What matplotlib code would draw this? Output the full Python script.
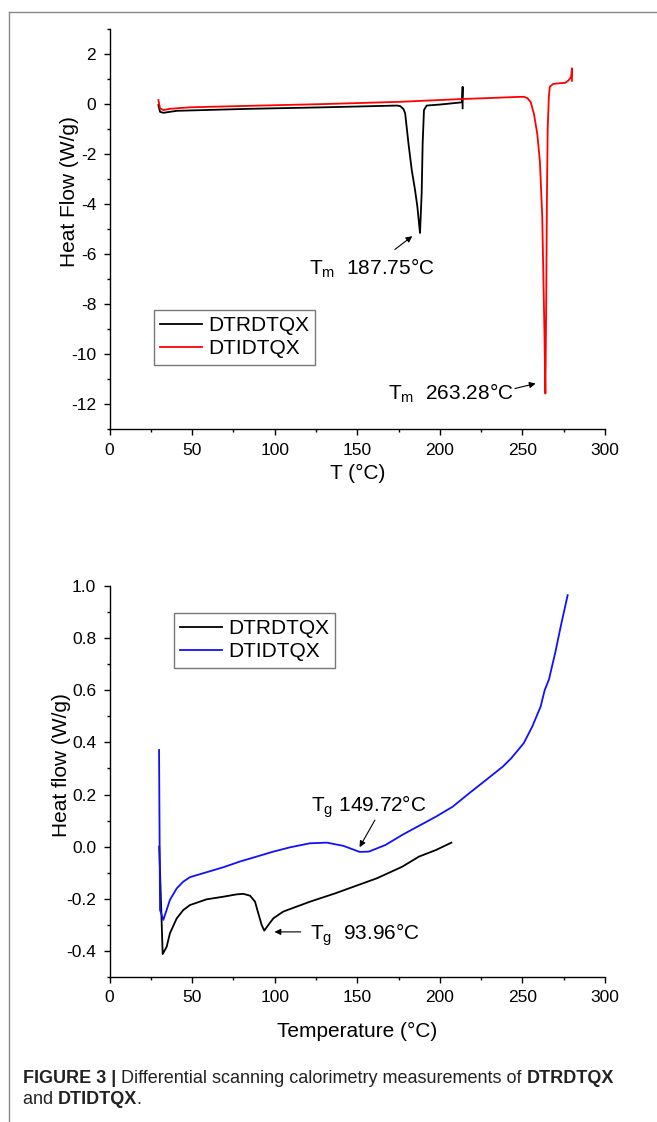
import numpy as np
import matplotlib
matplotlib.use("Agg")
import matplotlib.pyplot as plt
from matplotlib.ticker import MultipleLocator, FormatStrFormatter
from matplotlib.lines import Line2D

plt.rcParams['font.family'] = ['Liberation Sans', 'DejaVu Sans']
plt.rcParams['axes.unicode_minus'] = False
plt.rcParams['mathtext.fontset'] = 'custom'
plt.rcParams['mathtext.rm'] = 'Liberation Sans'
plt.rcParams['mathtext.it'] = 'Liberation Sans:italic'

# ---- top panel: melting (T, heat flow) ----
melt_x_a = [29.6, 30.6, 32.6, 40.7, 85, 130, 174, 176, 178, 179, 181, 183, 185,
            186.4, 187.6, 188.0, 189, 189.6, 190.4, 192, 200, 213.5, 213.8, 213.8]
melt_y_a = [-0.04, -0.31, -0.35, -0.27, -0.19, -0.13, -0.06, -0.08, -0.2, -0.37, -1.57,
            -2.64, -3.44, -4.1, -4.9, -5.15, -3.57, -1.57, -0.24, -0.06, -0.02, 0.07,
            0.69, -0.17]
melt_x_b = [29.6, 30.6, 32.6, 36.6, 48.7, 85, 130, 176, 213, 230, 245, 250.8, 253,
            255, 257, 259, 260.6, 262, 263.3, 263.9, 264.4, 264.8, 265.3, 266, 266.6,
            268.5, 272, 276, 278, 279.5, 280, 280]
melt_y_b = [0.16, -0.17, -0.24, -0.19, -0.13, -0.07, 0.0, 0.09, 0.2, 0.24, 0.28, 0.29,
            0.24, 0.08, -0.4, -1.2, -2.3, -4.5, -9.0, -11.57, -8.0, -4.0, -1.0, 0.3,
            0.69, 0.8, 0.83, 0.85, 0.95, 1.1, 1.43, 0.93]

# ---- bottom panel: glass transition ----
glass_x_a = [30.1, 32.2, 34.6, 36.6, 40.7, 44.7, 48.7, 58.8, 68.9, 77.0, 81, 85.1, 88.1,
             90.1, 92.1, 93.7, 96.2, 99.2, 105.2, 113.3, 121.4, 136.7, 162, 177.2,
             187.4, 197.6, 207]
glass_y_a = [0.0, -0.412, -0.384, -0.332, -0.275, -0.243, -0.224, -0.202, -0.192,
             -0.183, -0.181, -0.188, -0.211, -0.256, -0.30, -0.322, -0.30, -0.275,
             -0.249, -0.23, -0.211, -0.179, -0.121, -0.077, -0.038, -0.013, 0.0155]
glass_x_b = [30.0, 30.6, 32.6, 36.6, 40.7, 44.7, 48.7, 58.8, 68.9, 79.0, 89.1, 99.2,
             109.3, 121.4, 131.6, 141.7, 151.4, 157, 167.1, 177.2, 187.4, 197.6, 207.7,
             217.8, 228, 238.1, 243.2, 250.8, 255.9, 261, 263.5, 266, 269.8, 273.6,
             277.4]
glass_y_b = [0.371, -0.243, -0.281, -0.204, -0.16, -0.134, -0.117, -0.098, -0.079,
             -0.057, -0.038, -0.019, -0.0025, 0.013, 0.0155, 0.003, -0.020, -0.019,
             0.0065, 0.045, 0.080, 0.115, 0.153, 0.205, 0.256, 0.307, 0.339, 0.397,
             0.46, 0.537, 0.601, 0.64, 0.742, 0.857, 0.965]

names = ['DTRDTQX', 'DTIDTQX']

fig = plt.figure(figsize=(6.57, 11.22), dpi=100)
W, H = 657.0, 1122.0

ax1 = fig.add_axes([109.5 / W, 1 - 429.3 / H, 495.5 / W, 400.3 / H])
ax2 = fig.add_axes([109.5 / W, 1 - 977 / H, 495.5 / W, 391 / H])


def style(ax):
    for s in ['top', 'right']:
        ax.spines[s].set_visible(False)
    for s in ['left', 'bottom']:
        ax.spines[s].set_linewidth(1.0)
    ax.tick_params(which='major', direction='out', length=4.1, width=1.0,
                   labelsize=12.5, pad=5.5)
    ax.tick_params(which='minor', direction='out', length=2.4, width=1.0)
    ax.xaxis.set_major_locator(MultipleLocator(50))
    ax.xaxis.set_minor_locator(MultipleLocator(25))
    ax.set_xlim(0, 300)


def legend(ax, x, y):
    leg = ax.legend(loc='upper left', bbox_to_anchor=(x / W, 1 - y / H),
                    bbox_transform=fig.transFigure, borderaxespad=0, fontsize=15,
                    fancybox=False, edgecolor='#777777', framealpha=1,
                    handlelength=2.0, handletextpad=0.3, labelspacing=0.2,
                    borderpad=0.3)
    leg.get_frame().set_linewidth(1.0)
    return leg


style(ax1)
ax1.plot(melt_x_a, melt_y_a, color='black', lw=1.3, label=names[0])
ax1.plot(melt_x_b, melt_y_b, color='#ff0000', lw=1.3, label=names[1])
ax1.set_ylim(-13, 3)
ax1.yaxis.set_major_locator(MultipleLocator(2))
ax1.yaxis.set_minor_locator(MultipleLocator(1))
ax1.set_xlabel('T (°C)', fontsize=15)
ax1.set_ylabel('Heat Flow (W/g)', fontsize=15)
ax1.xaxis.set_label_coords(0.5, -0.087)
ax1.yaxis.set_label_coords(-0.062, 0.593)

arrow = dict(arrowstyle='-|>', lw=0.8, color='black', mutation_scale=9,
             shrinkA=0, shrinkB=0)
ax1.annotate('', xy=(183.3, -5.28), xytext=(172.8, -5.81), arrowprops=arrow)
ax1.text(120.8, -6.82, r'T$_\mathrm{m}$  187.75°C', fontsize=15, va='baseline')
ax1.annotate('', xy=(258.0, -11.17), xytext=(245.5, -11.37), arrowprops=arrow)
ax1.text(168.8, -11.83, r'T$_\mathrm{m}$  263.28°C', fontsize=15, va='baseline')
legend(ax1, 153.8, 310)

style(ax2)
ax2.plot(glass_x_a, glass_y_a, color='black', lw=1.3, label=names[0])
ax2.plot(glass_x_b, glass_y_b, color='#1010ff', lw=1.3, label=names[1])
ax2.set_ylim(-0.5, 1.0)
ax2.yaxis.set_major_locator(MultipleLocator(0.2))
ax2.yaxis.set_minor_locator(MultipleLocator(0.1))
ax2.yaxis.set_major_formatter(FormatStrFormatter('%.1f'))
ax2.set_xlabel('Temperature (°C)', fontsize=15)
ax2.set_ylabel('Heat flow (W/g)', fontsize=15)
ax2.xaxis.set_label_coords(0.5, -0.115)
ax2.yaxis.set_label_coords(-0.077, 0.542)

ax2.annotate('', xy=(151.4, -0.002), xytext=(160.7, 0.102), arrowprops=arrow)
ax2.text(122, 0.135, r'T$_\mathrm{g}$ 149.72°C', fontsize=15, va='baseline')
ax2.annotate('', xy=(99.9, -0.327), xytext=(115.8, -0.327), arrowprops=arrow)
ax2.text(121.4, -0.356, r'T$_\mathrm{g}$  93.96°C', fontsize=15, va='baseline')
legend(ax2, 174, 613)

# frame around the figure panel
fig.add_artist(Line2D([9 / W, 9 / W], [0, 1 - 12 / H], color='#888888', lw=1.0,
                      transform=fig.transFigure))
fig.add_artist(Line2D([9 / W, 1], [1 - 12 / H, 1 - 12 / H], color='#888888', lw=1.0,
                      transform=fig.transFigure))

# caption with bold pieces
cap_color = '#222222'
cap_size = 13


def chain(prev, txt, bold=False, dx=0):
    return ax2.annotate(txt, xy=(1, 0), xycoords=prev, va='bottom', ha='left',
                        xytext=(dx, 0), textcoords='offset pixels',
                        fontsize=cap_size, color=cap_color,
                        fontweight='bold' if bold else 'normal',
                        annotation_clip=False)


t = fig.text(23 / W, 1 - 1082.7 / H, 'FIGURE 3 |', fontsize=cap_size,
             fontweight='bold', color=cap_color, va='baseline')
t = chain(t, ' Differential scanning calorimetry measurements of ')
t = chain(t, 'DTRDTQX', bold=True)

t = fig.text(23 / W, 1 - 1104.3 / H, 'and ', fontsize=cap_size, color=cap_color,
             va='baseline')
t = chain(t, 'DTIDTQX', bold=True)
t = chain(t, '.', dx=-1)

fig.savefig('out.png', dpi=100)
